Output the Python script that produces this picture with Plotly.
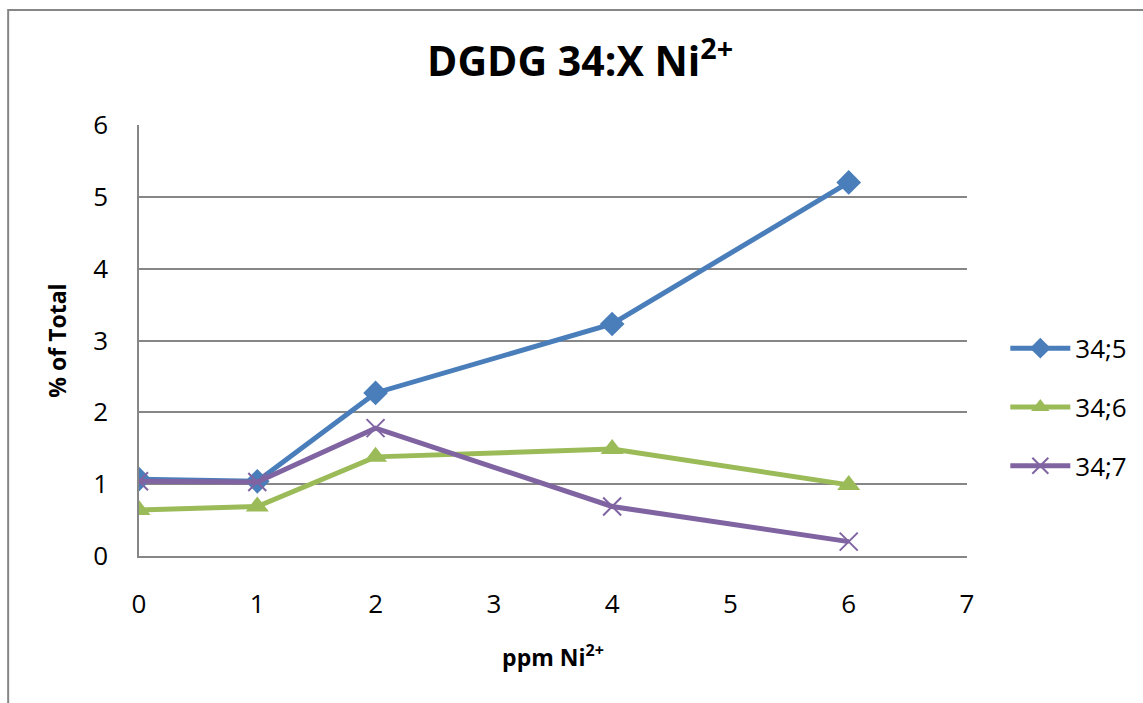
import plotly.graph_objects as go

# ppm Ni2+ concentrations
ppm = [0, 1, 2, 4, 6]

# % of total for each DGDG 34 species
dgdg_34_5 = [1.07, 1.04, 2.27, 3.23, 5.20]
dgdg_34_6 = [0.64, 0.69, 1.38, 1.49, 0.99]
dgdg_34_7 = [1.04, 1.03, 1.78, 0.69, 0.20]

series_names = ["34;5", "34;6", "34;7"]
x_ticks = [0, 1, 2, 3, 4, 5, 6, 7]
y_ticks = [0, 1, 2, 3, 4, 5, 6]

FONT = "Open Sans, Liberation Sans, sans-serif"
TICK_FONT = dict(family=FONT, size=26, color="black")
AXIS_TITLE_FONT = dict(family=FONT, size=23, color="black")

fig = go.Figure()
fig.add_trace(go.Scatter(
    x=ppm, y=dgdg_34_5, name=series_names[0], mode="lines+markers",
    legendgroup="a",
    line=dict(color="#4A7EBB", width=5),
    marker=dict(symbol="diamond", size=19, color="#4A7EBB"),
))
fig.add_trace(go.Scatter(
    x=ppm, y=dgdg_34_6, name=series_names[1], mode="lines+markers",
    legendgroup="b",
    line=dict(color="#9BBB59", width=5),
    marker=dict(symbol="triangle-up", size=20, color="#9BBB59"),
))
fig.add_trace(go.Scatter(
    x=ppm, y=dgdg_34_7, name=series_names[2], mode="lines+markers",
    legendgroup="c",
    line=dict(color="#8064A2", width=5),
    marker=dict(symbol="x-thin", size=18, line=dict(color="#8064A2", width=2)),
))

fig.update_layout(
    width=1143, height=703,
    margin=dict(l=139, r=175, t=125, b=147),
    paper_bgcolor="white", plot_bgcolor="white",
    font=dict(family=FONT, size=26, color="black"),
    title=dict(
        text="<b>DGDG 34:X Ni<sup>2+</sup></b>",
        xref="container", x=0.5075, xanchor="center",
        y=0.912, yanchor="middle",
        font=dict(family=FONT, size=41, color="black"),
    ),
    showlegend=True,
    legend=dict(
        x=1.045, xanchor="left", y=0.345, yanchor="middle",
        font=dict(family=FONT, size=26, color="black"),
        itemwidth=60, tracegroupgap=22, bgcolor="rgba(0,0,0,0)",
    ),
    xaxis=dict(
        range=[0, 7], tickvals=x_ticks, ticktext=[str(v) for v in x_ticks],
        tickfont=TICK_FONT,
        showgrid=False, zeroline=False,
        showline=True, linecolor="#868686", linewidth=1.5,
        ticks="", ticklabelstandoff=24,
        title=dict(text="<b>ppm Ni<sup>2+</sup></b>", font=AXIS_TITLE_FONT, standoff=30),
    ),
    yaxis=dict(
        range=[0, 6], tickvals=y_ticks, ticktext=[str(v) for v in y_ticks],
        tickfont=TICK_FONT,
        showgrid=True, gridcolor="#868686", gridwidth=1.5,
        zeroline=False,
        showline=True, linecolor="#868686", linewidth=1.5,
        ticks="", ticklabelstandoff=24,
        title=dict(text="<b>% of Total</b>", font=AXIS_TITLE_FONT, standoff=20),
    ),
)

# chart area border
fig.add_shape(
    type="rect", xref="paper", yref="paper",
    x0=(8 - 139) / 829, x1=(1200 - 139) / 829,
    y0=(556 - 760) / 431, y1=(556 - 10) / 431,
    line=dict(color="#868686", width=2), fillcolor="rgba(0,0,0,0)",
    layer="below",
)

fig.write_html("out.html")
